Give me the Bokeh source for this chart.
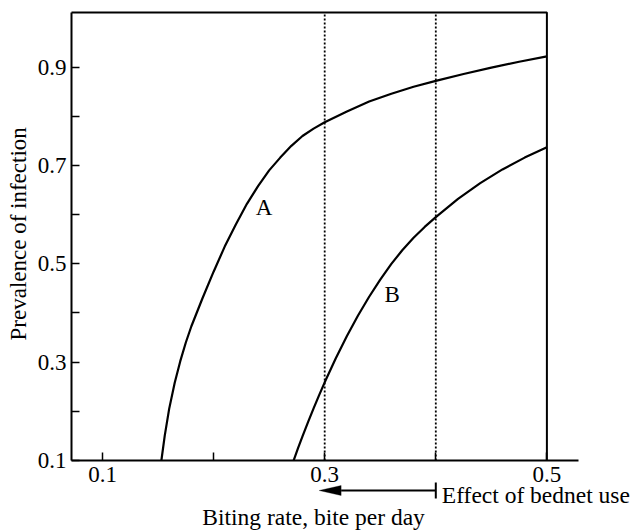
import math
from bokeh.plotting import figure
from bokeh.models import Range1d, FixedTicker, Label, Arrow, TeeHead, PolyAnnotation
from bokeh.embed import file_html
from bokeh.resources import INLINE

# ---- data ----
x_a = [0.153, 0.156, 0.160, 0.165, 0.170, 0.175, 0.180, 0.190, 0.200, 0.210,
       0.220, 0.230, 0.240, 0.250, 0.260, 0.270, 0.280, 0.290, 0.300, 0.320,
       0.340, 0.360, 0.380, 0.400, 0.425, 0.450, 0.475, 0.500]
y_a = [0.100, 0.150, 0.205, 0.258, 0.302, 0.340, 0.373, 0.430, 0.484, 0.535,
       0.580, 0.622, 0.658, 0.690, 0.716, 0.740, 0.760, 0.775, 0.788, 0.810,
       0.830, 0.846, 0.860, 0.872, 0.886, 0.899, 0.911, 0.922]

x_b = [0.272, 0.276, 0.280, 0.285, 0.290, 0.295, 0.300, 0.310, 0.320, 0.330,
       0.340, 0.350, 0.360, 0.370, 0.380, 0.390, 0.400, 0.420, 0.440, 0.460,
       0.480, 0.500]
y_b = [0.100, 0.125, 0.149, 0.178, 0.206, 0.233, 0.259, 0.308, 0.353, 0.395,
       0.433, 0.468, 0.500, 0.528, 0.553, 0.575, 0.595, 0.632, 0.664, 0.692,
       0.716, 0.737]

x_ticks = [0.1, 0.3, 0.5]
x_minor = [0.2, 0.4]
y_ticks = [0.1, 0.3, 0.5, 0.7, 0.9]
y_minor = [0.2, 0.4, 0.6, 0.8]

bednet_x = [0.3, 0.4]           # dotted reference lines
arrow_from = 0.4                # effect of bednet use: from 0.4 ...
arrow_to = 0.295                # ... down to ~0.3

label_a = (0.2455, 0.614)
label_b = (0.3607, 0.4376)

# ---- ranges / layout (frame covers whole canvas, axes at fixed locations) ----
W, H = 634, 530
x_lo, x_hi = 0.00819, 0.57885
y_lo, y_hi = -0.04236, 1.03553
px_x = (x_hi - x_lo) / W   # data units per pixel
px_y = (y_hi - y_lo) / H

axis_x0, axis_x1 = 0.0721, 0.528   # extent of x axis line
axis_y0 = 0.1                      # x axis sits at prevalence 0.1
box_top, box_right = 1.011, 0.5

SERIF = "Liberation Serif"

p = figure(width=W, height=H, output_backend="svg", toolbar_location=None,
           x_range=Range1d(x_lo, x_hi), y_range=Range1d(y_lo, y_hi),
           min_border_left=0, min_border_right=0, min_border_top=0,
           min_border_bottom=0)
p.outline_line_color = None
p.grid.grid_line_color = None
p.background_fill_color = "white"
p.border_fill_color = "white"

for ax in (p.xaxis[0], p.yaxis[0]):
    ax.axis_line_color = "black"
    ax.axis_line_width = 2
    ax.major_tick_in = 8
    ax.major_tick_out = 0
    ax.minor_tick_in = 8
    ax.minor_tick_out = 0
    ax.major_tick_line_color = "black"
    ax.minor_tick_line_color = "black"
    ax.major_tick_line_width = 1.5
    ax.minor_tick_line_width = 1.5
    ax.major_label_text_font = SERIF
    ax.major_label_text_font_size = "23px"
    ax.major_label_text_color = "black"

p.xaxis[0].ticker = FixedTicker(ticks=x_ticks, minor_ticks=x_minor)
p.yaxis[0].ticker = FixedTicker(ticks=y_ticks, minor_ticks=y_minor)
p.xaxis[0].fixed_location = axis_y0
p.yaxis[0].fixed_location = axis_x0
p.xaxis[0].bounds = (axis_x0, axis_x1)
p.yaxis[0].bounds = (axis_y0, box_top)
p.xaxis[0].major_label_standoff = 6
p.yaxis[0].major_label_standoff = 5

# frame: top and right side
p.line([axis_x0, box_right, box_right], [box_top, box_top, axis_y0],
       line_color="black", line_width=2)

# dotted lines
p.segment(x0=bednet_x, y0=[axis_y0] * len(bednet_x), x1=bednet_x,
          y1=[box_top] * len(bednet_x), line_color="black",
          line_width=1.8, line_dash="2 2")

# curves
p.line(x_a, y_a, line_color="black", line_width=2.2)
p.line(x_b, y_b, line_color="black", line_width=2.2)

# curve labels
for txt, (lx, ly) in (("A", label_a), ("B", label_b)):
    p.add_layout(Label(x=lx, y=ly, text=txt, text_font=SERIF,
                       text_font_size="23px", text_align="center",
                       text_baseline="middle", text_color="black"))

# arrow: effect of bednet use
arrow_y = axis_y0 - 30 * px_y
head_len = 22 * px_x
head_hw = 5 * px_y
p.add_layout(Arrow(x_start=arrow_from, y_start=arrow_y,
                   x_end=arrow_to + head_len, y_end=arrow_y,
                   start=TeeHead(size=16, line_width=2, line_color="black"),
                   end=None, line_width=2, line_color="black"))
p.add_layout(PolyAnnotation(xs=[arrow_to, arrow_to + head_len, arrow_to + head_len],
                            ys=[arrow_y, arrow_y + head_hw, arrow_y - head_hw],
                            fill_color="black", fill_alpha=1.0,
                            line_color="black", line_width=1))
p.add_layout(Label(x=arrow_from + 6 * px_x, y=axis_y0 - 34.5 * px_y,
                   text="Effect of bednet use", text_font=SERIF,
                   text_font_size="23.5px", text_align="left",
                   text_baseline="middle", text_color="black"))

# axis titles
p.add_layout(Label(x=0.290, y=axis_y0 - 56.5 * px_y, text="Biting rate, bite per day",
                   text_font=SERIF, text_font_size="23.5px", text_align="center",
                   text_baseline="middle", text_color="black"))
p.add_layout(Label(x=0.1 - 84.5 * px_x, y=0.561, text="Prevalence of infection",
                   angle=math.pi / 2, text_font=SERIF, text_font_size="23px",
                   text_align="center", text_baseline="middle",
                   text_color="black"))

open("out.html", "w").write(file_html(p, INLINE))
